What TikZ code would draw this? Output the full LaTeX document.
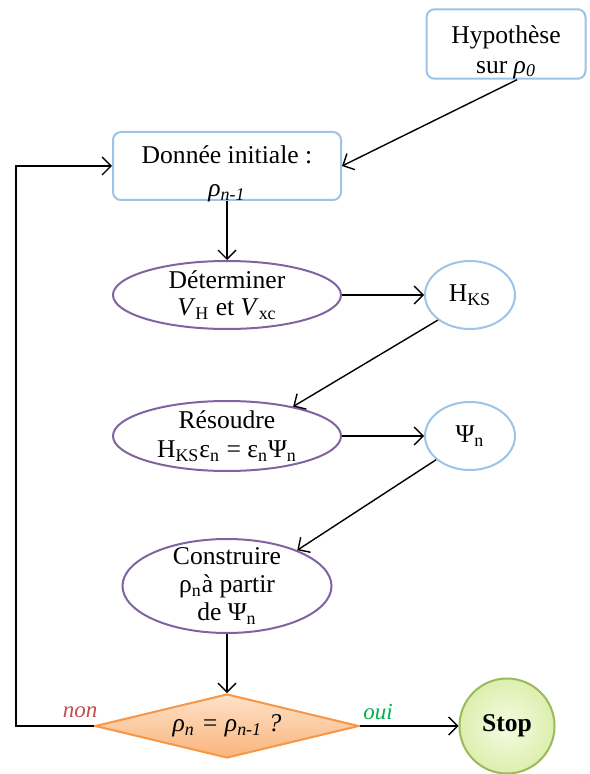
\documentclass[tikz,border=0pt]{standalone}
\usepackage{fontspec}
\setmainfont{Liberation Serif}
\usepackage{xcolor}
\usepackage{tikz}
\usetikzlibrary{shapes.geometric, positioning, arrows.meta}

\definecolor{bleu}{HTML}{9DC3E6}
\definecolor{violet}{HTML}{8064A2}
\definecolor{orange}{HTML}{F79646}
\definecolor{orangeclair}{HTML}{FDE2C8}
\definecolor{orangefonce}{HTML}{FAB47C}
\definecolor{vert}{HTML}{9BBB59}
\definecolor{vertclair}{HTML}{F5FBE2}
\definecolor{vertfonce}{HTML}{DCEFAE}
\definecolor{rouge}{HTML}{C0504D}
\definecolor{vertoui}{HTML}{00B050}

\begin{document}
\begin{tikzpicture}[x=0.5pt, y=-0.5pt, font=\fontsize{12.8}{14.5}\selectfont,
    boite/.style = {draw=bleu, line width=1pt, rounded corners=4pt, fill=white, align=center, inner sep=0pt},
    etape/.style = {draw=violet, line width=1pt, ellipse, align=center, inner sep=0pt},
    resultat/.style = {draw=bleu, line width=1pt, ellipse, minimum width=45pt, minimum height=34pt, inner sep=0pt},
    fleche/.style = {line width=0.7pt, -{Straight Barb[length=4.5pt, width=9pt]}}]
    \useasboundingbox (0,0) rectangle (589,774);

    % noeuds
    \node[boite, minimum width=79.5pt, minimum height=34pt] (hyp) at (506,44)
        {\rule{0pt}{17pt}Hypothèse\\[0.5pt]sur \textit{ρ\textsubscript{0}}};
    \node[boite, minimum width=114pt, minimum height=34pt, inner ysep=-2pt] (donnee) at (227,166)
        {\rule{0pt}{17pt}Donnée initiale :\\[2pt]\textit{ρ\textsubscript{n-1}}};
    \node[etape, minimum width=114pt, minimum height=34pt, inner ysep=-1pt] (det) at (227,295)
        {Déterminer\\[-1pt]\textit{V}\textsubscript{H} et \textit{V}\textsubscript{xc}};
    \node[resultat] (hks) at (470,295) {H\textsubscript{KS}};
    \node[etape, minimum width=114pt, minimum height=35pt, inner ysep=-1pt] (res) at (227,436)
        {Résoudre\\H\textsubscript{KS}ε\textsubscript{n} = ε\textsubscript{n}Ψ\textsubscript{n}};
    \node[resultat] (psi) at (470,436) {Ψ\textsubscript{n}};
    \node[etape, minimum width=104.5pt, minimum height=47pt, inner ysep=-4pt] (cons) at (227,586)
        {Construire\\[-0.5pt]ρ\textsubscript{n}à partir\\[-0.5pt]de Ψ\textsubscript{n}};
    \node[diamond, draw=orange, line width=1pt, top color=orangeclair, bottom color=orangefonce,
        aspect=4.1, minimum width=132pt, minimum height=32pt, inner sep=0pt] (test) at (227,726)
        {\textit{ρ\textsubscript{n} = ρ\textsubscript{n-1} ?}};
    \node[circle, draw=vert, line width=1pt, inner color=vertclair, outer color=vertfonce,
        minimum size=47.5pt, inner sep=0pt] (stop) at (507,726) {\textbf{Stop}};
    \node[text=rouge, font=\fontsize{11.5}{13}\selectfont\itshape] (non) at (80,712) {non};
    \node[text=vertoui, font=\fontsize{11.5}{13}\selectfont\itshape] (oui) at (378,712) {oui};
    \coordinate (retour) at (16,726);

    % fleches
    \draw[fleche] ([xshift=5.5pt]hyp.south) -- (donnee.east);
    \draw[fleche] (donnee.south) -- (det.north);
    \draw[fleche] (det.east) -- (hks.west);
    \draw[fleche] (hks.218) -- (res.24);
    \draw[fleche] (res.east) -- (psi.west);
    \draw[fleche] (psi.215) -- (cons.27);
    \draw[fleche] (cons.south) -- (test.north);
    \draw[fleche] (test.east) -- (stop.west);
    \draw[fleche] (test.west) -- (retour) |- (donnee.west);
\end{tikzpicture}
\end{document}
